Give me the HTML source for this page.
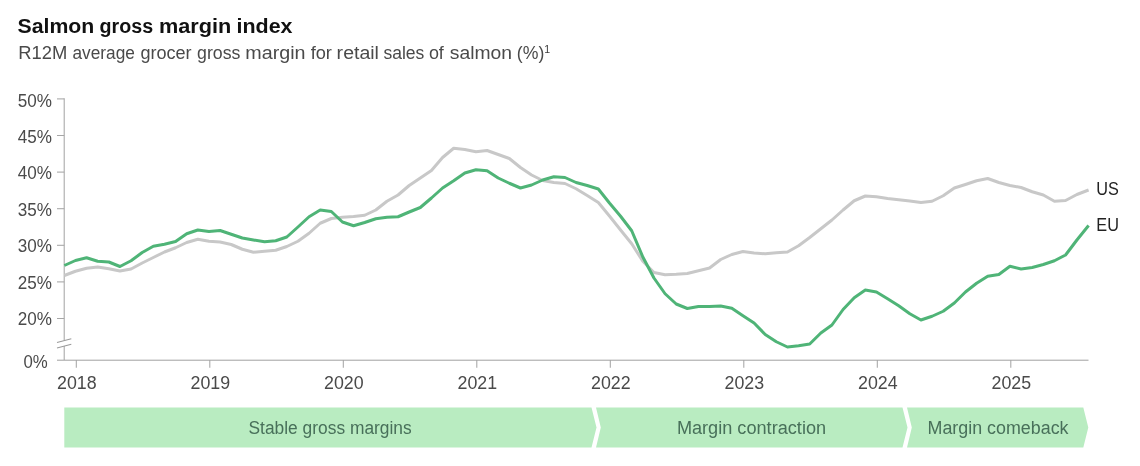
<!DOCTYPE html>
<html><head><meta charset="utf-8"><title>Salmon gross margin index</title>
<style>
html,body{margin:0;padding:0;background:#fff;}
body{width:1140px;height:466px;overflow:hidden;}
svg{display:block;}
text{font-family:"Liberation Sans",sans-serif;}
.lbl{font-size:18.5px;fill:#4a4a4a;}
.band{font-size:18px;fill:#48705a;}
</style></head><body>
<svg width="1140" height="466" viewBox="0 0 1140 466">
<rect width="1140" height="466" fill="#ffffff"/>
<text y="33.2" font-size="20.7" font-weight="bold" fill="#111111"><tspan x="17.52" textLength="76.78" lengthAdjust="spacingAndGlyphs">Salmon</tspan> <tspan x="99.55" textLength="53.57" lengthAdjust="spacingAndGlyphs">gross</tspan> <tspan x="158.95" textLength="72.38" lengthAdjust="spacingAndGlyphs">margin</tspan> <tspan x="236.56" textLength="55.99" lengthAdjust="spacingAndGlyphs">index</tspan></text>
<text y="59.2" font-size="18.3" fill="#4a4a4a"><tspan x="18.30" textLength="48.98" lengthAdjust="spacingAndGlyphs">R12M</tspan> <tspan x="72.46" textLength="62.42" lengthAdjust="spacingAndGlyphs">average</tspan> <tspan x="140.41" textLength="51.22" lengthAdjust="spacingAndGlyphs">grocer</tspan> <tspan x="197.03" textLength="43.37" lengthAdjust="spacingAndGlyphs">gross</tspan> <tspan x="245.32" textLength="60.24" lengthAdjust="spacingAndGlyphs">margin</tspan> <tspan x="310.70" textLength="21.24" lengthAdjust="spacingAndGlyphs">for</tspan> <tspan x="336.63" textLength="42.34" lengthAdjust="spacingAndGlyphs">retail</tspan> <tspan x="383.44" textLength="40.92" lengthAdjust="spacingAndGlyphs">sales</tspan> <tspan x="428.92" textLength="14.95" lengthAdjust="spacingAndGlyphs">of</tspan> <tspan x="449.74" textLength="62.25" lengthAdjust="spacingAndGlyphs">salmon</tspan> <tspan x="516.83" textLength="27.46" lengthAdjust="spacingAndGlyphs">(%)</tspan></text>
<text x="544.2" y="52.6" font-size="10.6" fill="#3c3c3c">1</text>

<g stroke="#a6a6a6" stroke-width="1.05" fill="none">
<line x1="64.2" y1="98.3" x2="64.2" y2="360"/>
<line x1="57" y1="360.2" x2="1088.5" y2="360.2" stroke="#a0a0a0" stroke-width="1"/>
<line x1="57" y1="98.90" x2="64.2" y2="98.90"/>
<line x1="57" y1="135.50" x2="64.2" y2="135.50"/>
<line x1="57" y1="172.10" x2="64.2" y2="172.10"/>
<line x1="57" y1="208.70" x2="64.2" y2="208.70"/>
<line x1="57" y1="245.30" x2="64.2" y2="245.30"/>
<line x1="57" y1="281.90" x2="64.2" y2="281.90"/>
<line x1="57" y1="318.50" x2="64.2" y2="318.50"/>
<line x1="76.3" y1="360" x2="76.3" y2="367.7"/>
<line x1="209.8" y1="360" x2="209.8" y2="367.7"/>
<line x1="343.3" y1="360" x2="343.3" y2="367.7"/>
<line x1="476.8" y1="360" x2="476.8" y2="367.7"/>
<line x1="610.3" y1="360" x2="610.3" y2="367.7"/>
<line x1="743.8" y1="360" x2="743.8" y2="367.7"/>
<line x1="877.3" y1="360" x2="877.3" y2="367.7"/>
<line x1="1010.8" y1="360" x2="1010.8" y2="367.7"/>
</g>
<rect x="62" y="340.5" width="5" height="5.5" fill="#fff"/>
<g stroke="#9a9a9a" stroke-width="1.05"><line x1="57" y1="342.6" x2="71.3" y2="338.8"/><line x1="57" y1="348" x2="71.3" y2="344.3"/></g>
<text class="lbl" x="52.0" y="106.50" text-anchor="end" textLength="34.2" lengthAdjust="spacingAndGlyphs">50%</text>
<text class="lbl" x="52.0" y="142.92" text-anchor="end" textLength="34.2" lengthAdjust="spacingAndGlyphs">45%</text>
<text class="lbl" x="52.0" y="179.34" text-anchor="end" textLength="34.2" lengthAdjust="spacingAndGlyphs">40%</text>
<text class="lbl" x="52.0" y="215.76" text-anchor="end" textLength="34.2" lengthAdjust="spacingAndGlyphs">35%</text>
<text class="lbl" x="52.0" y="252.18" text-anchor="end" textLength="34.2" lengthAdjust="spacingAndGlyphs">30%</text>
<text class="lbl" x="52.0" y="288.60" text-anchor="end" textLength="34.2" lengthAdjust="spacingAndGlyphs">25%</text>
<text class="lbl" x="52.0" y="325.02" text-anchor="end" textLength="34.2" lengthAdjust="spacingAndGlyphs">20%</text>
<text class="lbl" x="47.7" y="368.4" text-anchor="end" textLength="24.3" lengthAdjust="spacingAndGlyphs">0%</text>
<text class="lbl" x="76.8" y="389.2" style="font-size:18.9px" text-anchor="middle" textLength="39.6" lengthAdjust="spacingAndGlyphs">2018</text>
<text class="lbl" x="210.3" y="389.2" style="font-size:18.9px" text-anchor="middle" textLength="39.6" lengthAdjust="spacingAndGlyphs">2019</text>
<text class="lbl" x="343.8" y="389.2" style="font-size:18.9px" text-anchor="middle" textLength="39.6" lengthAdjust="spacingAndGlyphs">2020</text>
<text class="lbl" x="477.3" y="389.2" style="font-size:18.9px" text-anchor="middle" textLength="39.6" lengthAdjust="spacingAndGlyphs">2021</text>
<text class="lbl" x="610.8" y="389.2" style="font-size:18.9px" text-anchor="middle" textLength="39.6" lengthAdjust="spacingAndGlyphs">2022</text>
<text class="lbl" x="744.3" y="389.2" style="font-size:18.9px" text-anchor="middle" textLength="39.6" lengthAdjust="spacingAndGlyphs">2023</text>
<text class="lbl" x="877.8" y="389.2" style="font-size:18.9px" text-anchor="middle" textLength="39.6" lengthAdjust="spacingAndGlyphs">2024</text>
<text class="lbl" x="1011.3" y="389.2" style="font-size:18.9px" text-anchor="middle" textLength="39.6" lengthAdjust="spacingAndGlyphs">2025</text>
<polyline points="64.33,275.50 75.45,271.25 86.58,268.25 97.70,267.00 108.83,268.75 119.95,271.00 131.07,269.00 142.20,263.00 153.32,257.50 164.45,252.00 175.57,247.75 186.70,242.50 197.82,239.25 208.95,241.25 220.07,242.00 231.20,244.50 242.32,249.25 253.45,252.25 264.57,251.25 275.70,250.25 286.82,246.50 297.95,241.25 309.07,233.25 320.20,223.25 331.32,218.50 342.45,217.25 353.57,216.50 364.70,215.25 375.82,210.00 386.95,201.25 398.07,195.00 409.20,185.50 420.32,178.00 431.45,170.50 442.57,157.50 453.70,148.25 464.82,149.50 475.95,151.75 487.07,150.50 498.20,154.50 509.32,158.50 520.45,167.50 531.58,175.00 542.70,180.50 553.83,182.50 564.95,183.50 576.08,188.75 587.20,195.50 598.33,202.50 609.45,216.00 620.58,230.00 631.70,243.75 642.83,261.25 653.95,272.50 665.08,274.75 676.20,274.25 687.33,273.50 698.45,270.75 709.58,268.00 720.70,259.50 731.83,254.50 742.95,251.50 754.08,253.00 765.20,253.75 776.33,252.75 787.45,252.00 798.58,245.75 809.70,237.50 820.83,228.75 831.95,220.00 843.08,210.00 854.20,200.75 865.33,196.00 876.45,196.75 887.58,198.50 898.70,199.75 909.83,201.00 920.95,202.50 932.08,201.25 943.20,195.75 954.33,188.00 965.45,184.50 976.58,180.75 987.70,178.50 998.83,182.50 1009.95,185.50 1021.08,187.50 1032.20,191.75 1043.33,195.00 1054.45,201.25 1065.58,200.50 1076.90,194.50 1088.60,190.00" fill="none" stroke="#c8c8c8" stroke-width="3" stroke-linejoin="round" stroke-linecap="butt"/>
<polyline points="64.33,265.50 75.45,260.50 86.58,257.75 97.70,261.25 108.83,262.00 119.95,266.50 131.07,260.75 142.20,252.50 153.32,246.25 164.45,244.25 175.57,241.50 186.70,233.75 197.82,230.00 208.95,231.50 220.07,230.50 231.20,234.25 242.32,238.00 253.45,240.00 264.57,241.75 275.70,240.75 286.82,237.00 297.95,227.00 309.07,216.75 320.20,210.00 331.32,211.50 342.45,222.00 353.57,225.75 364.70,222.50 375.82,218.75 386.95,217.25 398.07,216.75 409.20,212.00 420.32,207.50 431.45,198.00 442.57,188.00 453.70,180.75 464.82,173.00 475.95,169.75 487.07,170.75 498.20,178.00 509.32,183.25 520.45,188.00 531.58,185.00 542.70,180.00 553.83,176.75 564.95,177.50 576.08,182.50 587.20,185.50 598.33,189.00 609.45,203.00 620.58,216.25 631.70,230.75 642.83,257.00 653.95,278.00 665.08,293.75 676.20,304.00 687.33,308.50 698.45,306.50 709.58,306.50 720.70,306.00 731.83,308.25 742.95,315.75 754.08,323.00 765.20,334.50 776.33,341.75 787.45,347.00 798.58,345.75 809.70,344.00 820.83,333.00 831.95,325.00 843.08,309.50 854.20,297.75 865.33,290.00 876.45,292.00 887.58,298.75 898.70,305.75 909.83,313.75 920.95,320.00 932.08,316.25 943.20,311.25 954.33,303.00 965.45,292.00 976.58,283.25 987.70,276.25 998.83,274.50 1009.95,266.25 1021.08,269.00 1032.20,267.50 1043.33,264.50 1054.45,260.75 1065.58,255.00 1076.90,240.00 1088.60,225.50" fill="none" stroke="#4fb477" stroke-width="3" stroke-linejoin="round" stroke-linecap="butt"/>
<text x="1096.3" y="195" font-size="18.5" fill="#222" textLength="22.6" lengthAdjust="spacingAndGlyphs">US</text>
<text x="1096.3" y="231.3" font-size="18.5" fill="#222" textLength="22.6" lengthAdjust="spacingAndGlyphs">EU</text>
<g fill="#b9ecc1">
<polygon points="64.3,407.5 591.5,407.5 596.5,427.5 591.5,447.5 64.3,447.5"/>
<polygon points="596,407.5 902.5,407.5 907.5,427.5 902.5,447.5 596,447.5 600.8,427.5"/>
<polygon points="907,407.5 1083.3,407.5 1088.3,427.5 1083.3,447.5 907,447.5 911.8,427.5"/>
</g>
<text class="band" x="330.1" y="433.8" text-anchor="middle" textLength="163.2" lengthAdjust="spacingAndGlyphs">Stable gross margins</text>
<text class="band" x="751.5" y="433.8" text-anchor="middle" textLength="149.2" lengthAdjust="spacingAndGlyphs">Margin contraction</text>
<text class="band" x="998.0" y="433.8" text-anchor="middle" textLength="141" lengthAdjust="spacingAndGlyphs">Margin comeback</text>
</svg></body></html>
